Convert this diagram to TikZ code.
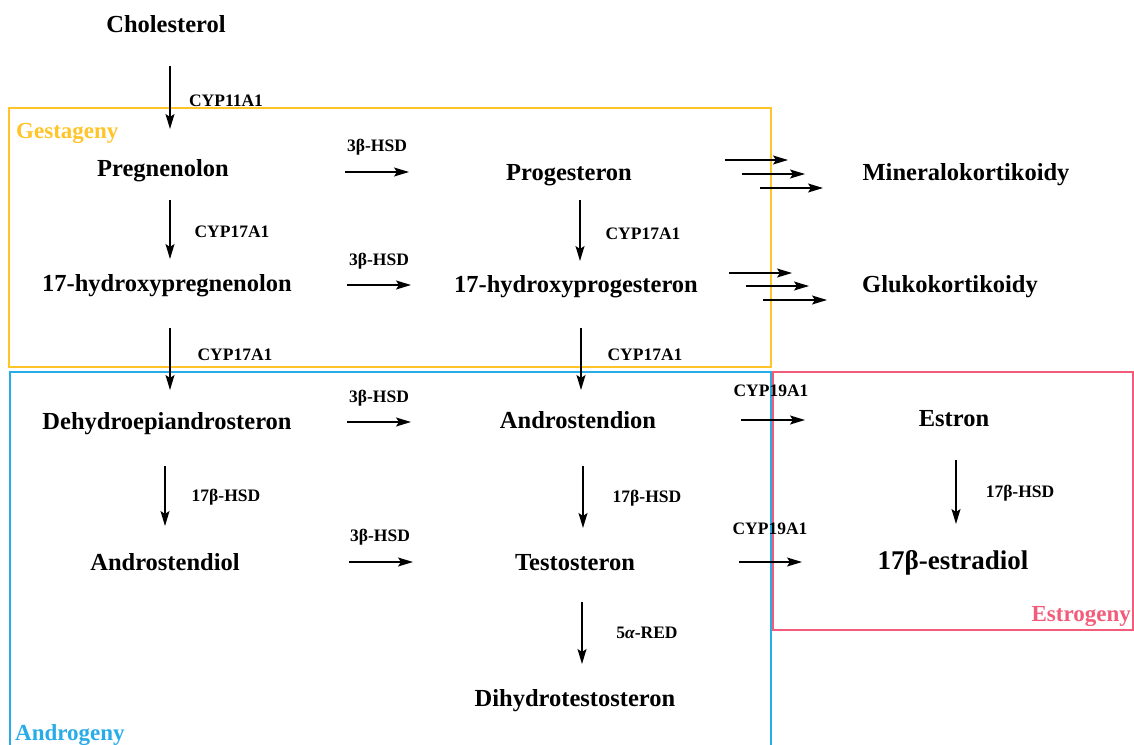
\documentclass[tikz,border=0pt]{standalone}
\usepackage{fontspec}
\setmainfont{Liberation Serif}
\usetikzlibrary{arrows.meta}
\definecolor{gold}{RGB}{255,196,40}
\definecolor{sky}{RGB}{40,172,232}
\definecolor{rose}{RGB}{242,92,122}
\tikzset{
  mol/.style={font=\fontsize{24.5}{28}\selectfont\bfseries, inner sep=0pt, text height=0.66em, text depth=0pt, yshift=-5pt},
  enz/.style={font=\fontsize{17.5}{20}\selectfont\bfseries, inner sep=0pt, text height=0.66em, text depth=0pt, yshift=-3pt},
  grp/.style={font=\fontsize{23}{26}\selectfont\bfseries, inner sep=0pt, text height=0.66em, text depth=0pt, yshift=-5pt},
  arr/.style={-{Stealth[length=15pt,width=9pt,inset=3pt]}, line width=1.3pt},
  box/.style={line width=1.8pt}
}
\begin{document}
\begin{tikzpicture}[x=1pt,y=-1pt]
\useasboundingbox (0,0) rectangle (1134,744);
% group boxes
\draw[box,gold] (9,108) rectangle (771,367);
\draw[box,sky] (10,746) -- (10,372) -- (771,372) -- (771,746);
\draw[box,rose] (773,372) rectangle (1133,630);
\node[grp,gold,anchor=west] (gest) at (16,130) {Gestageny};
\node[grp,sky,anchor=west] (andr) at (15,732) {Androgeny};
\node[grp,rose,anchor=east] (estr) at (1131,613) {Estrogeny};
% molecules
\node[mol] (chol) at (166,24) {Cholesterol};
\node[mol] (preg) at (163,168) {Pregnenolon};
\node[mol] (prog) at (569,172) {Progesteron};
\node[mol] (mine) at (966,172) {Mineralokortikoidy};
\node[mol] (ohpreg) at (167,283) {17-hydroxypregnenolon};
\node[mol] (ohprog) at (576,284) {17-hydroxyprogesteron};
\node[mol] (gluk) at (950,284) {Glukokortikoidy};
\node[mol] (dhea) at (167,421) {Dehydroepiandrosteron};
\node[mol] (adion) at (578,420) {Androstendion};
\node[mol] (estron) at (954,418) {Estron};
\node[mol] (adiol) at (165,562) {Androstendiol};
\node[mol] (testo) at (575,562) {Testosteron};
\node[mol,font=\fontsize{27}{30}\selectfont\bfseries] (estra) at (953,561) {17β-estradiol};
\node[mol] (dht) at (575,698) {Dihydrotestosteron};
% enzyme labels
\node[enz] (e1) at (226,100) {CYP11A1};
\node[enz] (e2) at (377,145) {3β-HSD};
\node[enz] (e3) at (232,231) {CYP17A1};
\node[enz] (e4) at (643,233) {CYP17A1};
\node[enz] (e5) at (379,259) {3β-HSD};
\node[enz] (e6) at (235,354) {CYP17A1};
\node[enz] (e7) at (645,354) {CYP17A1};
\node[enz] (e8) at (379,396) {3β-HSD};
\node[enz] (e9) at (771,390) {CYP19A1};
\node[enz] (e10) at (226,495) {17β-HSD};
\node[enz] (e11) at (647,496) {17β-HSD};
\node[enz] (e12) at (1020,491) {17β-HSD};
\node[enz] (e13) at (380,535) {3β-HSD};
\node[enz] (e14) at (770,528) {CYP19A1};
\node[enz] (e15) at (647,632) {5{\itshape α}-RED};
% arrow ends
\coordinate (a1s) at (170,66);  \coordinate (a1e) at (170,129);
\coordinate (a2s) at (345,172); \coordinate (a2e) at (409,172);
\coordinate (a3s) at (170,200); \coordinate (a3e) at (170,259);
\coordinate (a4s) at (580,200); \coordinate (a4e) at (580,261);
\coordinate (a5s) at (347,285); \coordinate (a5e) at (411,285);
\coordinate (a6s) at (170,328); \coordinate (a6e) at (170,390);
\coordinate (a7s) at (581,328); \coordinate (a7e) at (581,390);
\coordinate (a8s) at (347,422); \coordinate (a8e) at (411,422);
\coordinate (a9s) at (741,420); \coordinate (a9e) at (805,420);
\coordinate (a10s) at (165,466); \coordinate (a10e) at (165,526);
\coordinate (a11s) at (583,466); \coordinate (a11e) at (583,528);
\coordinate (a12s) at (956,460); \coordinate (a12e) at (956,524);
\coordinate (a13s) at (349,562); \coordinate (a13e) at (413,562);
\coordinate (a14s) at (739,562); \coordinate (a14e) at (802,562);
\coordinate (a15s) at (582,602); \coordinate (a15e) at (582,664);
\coordinate (m1s) at (725,160); \coordinate (m1e) at (788,160);
\coordinate (m2s) at (742,174); \coordinate (m2e) at (805,174);
\coordinate (m3s) at (760,188); \coordinate (m3e) at (823,188);
\coordinate (g1s) at (729,273); \coordinate (g1e) at (792,273);
\coordinate (g2s) at (746,286); \coordinate (g2e) at (809,286);
\coordinate (g3s) at (763,300); \coordinate (g3e) at (827,300);
\foreach \a in {a1,a2,a3,a4,a5,a6,a7,a8,a9,a10,a11,a12,a13,a14,a15,m1,m2,m3,g1,g2,g3}
  \draw[arr] (\a s) -- (\a e);
\end{tikzpicture}
\end{document}
